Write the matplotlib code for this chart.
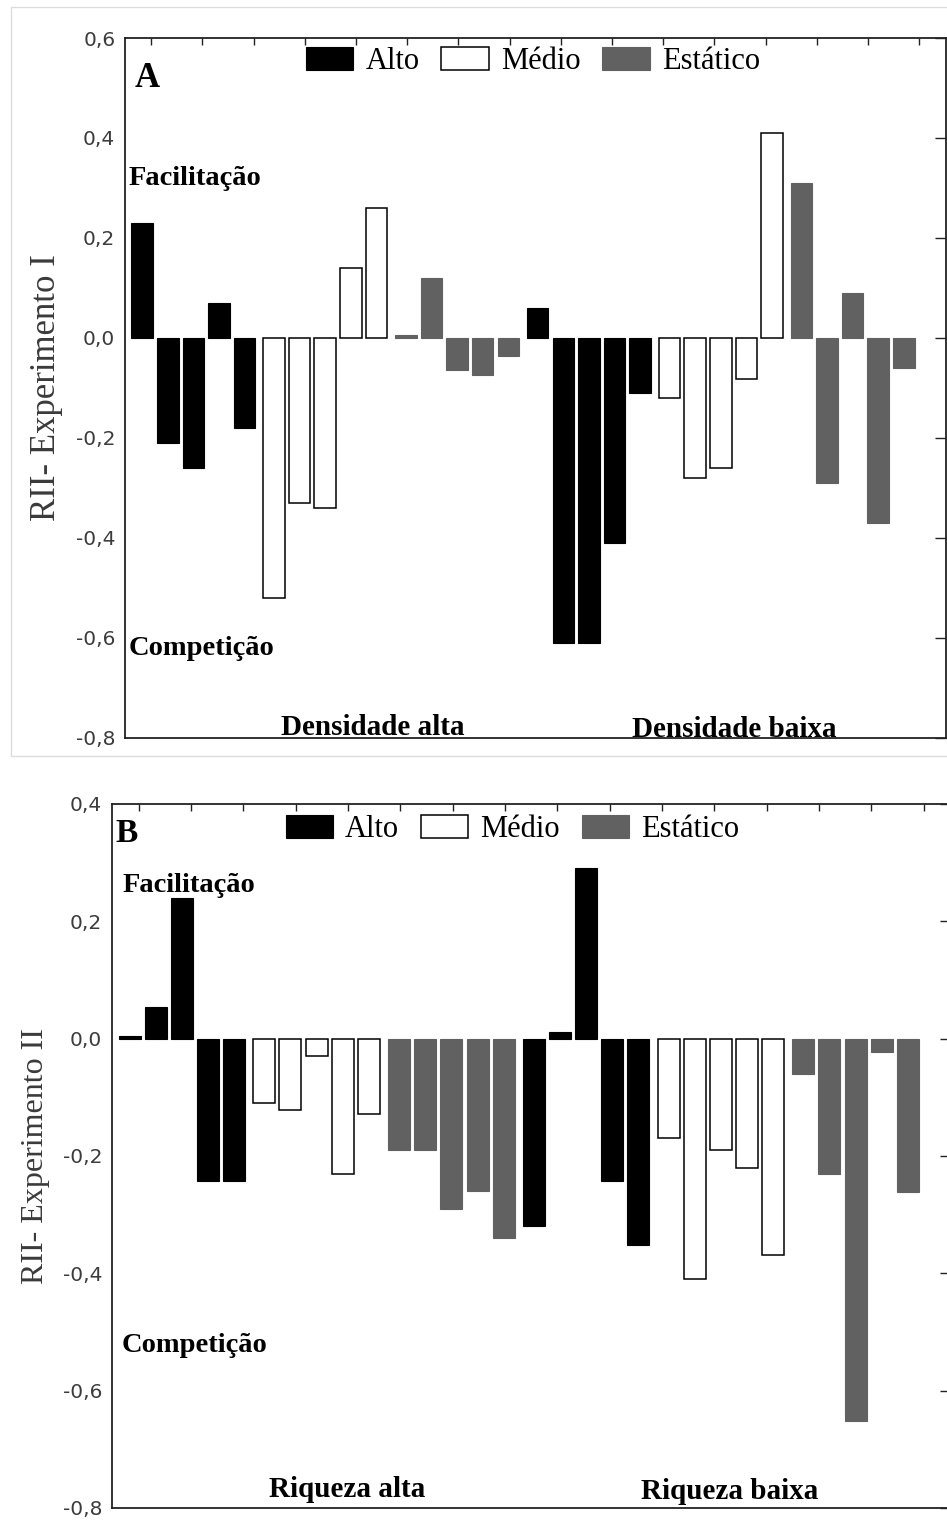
import matplotlib
matplotlib.use('Agg')
import matplotlib.pyplot as plt
import matplotlib.patches as mpatches
from matplotlib.ticker import FuncFormatter, FixedLocator
import numpy as np

plt.rcParams['font.family'] = ['Liberation Serif', 'DejaVu Serif']

# RII values, 5 bars per block
# Experimento I (A): Densidade alta, then Densidade baixa
a_alta_alto = [0.23, -0.21, -0.26, 0.07, -0.18]
a_alta_medio = [-0.52, -0.33, -0.34, 0.14, 0.26]
a_alta_estatico = [0.006, 0.12, -0.064, -0.074, -0.036]
a_baixa_alto = [0.06, -0.61, -0.61, -0.41, -0.11]
a_baixa_medio = [-0.12, -0.28, -0.26, -0.083, 0.41]
a_baixa_estatico = [0.31, -0.29, 0.09, -0.37, -0.06]

# Experimento II (B): Riqueza alta, then Riqueza baixa
b_alta_alto = [0.004, 0.054, 0.24, -0.243, -0.243]
b_alta_medio = [-0.11, -0.122, -0.03, -0.23, -0.128]
b_alta_estatico = [-0.19, -0.19, -0.29, -0.26, -0.34]
b_baixa_alto = [-0.32, 0.011, 0.29, -0.243, -0.352]
b_baixa_medio = [-0.169, -0.409, -0.19, -0.22, -0.369]
b_baixa_estatico = [-0.06, -0.23, -0.652, -0.022, -0.261]

treatments = ['Alto', 'Médio', 'Estático']
order = ['Alto', 'Médio', 'Estático', 'Alto', 'Médio', 'Estático']

styles = {
    'Alto': dict(facecolor='black', edgecolor='black', linewidth=0.8),
    'Médio': dict(facecolor='white', edgecolor='black', linewidth=1.1),
    'Estático': dict(facecolor='#616161', edgecolor='#616161', linewidth=0.8),
}

GAP = 0.15  # extra space between blocks of 5 bars


def comma(v, pos):
    if abs(v) < 1e-9:
        v = 0.0
    return f'{v:.1f}'.replace('.', ',')


def draw_panel(ax, blocks, ymin, ymax):
    for b, (vals, trat) in enumerate(zip(blocks, order)):
        x = b * 5 + np.arange(len(vals)) + GAP * b
        ax.bar(x, vals, width=0.84, **styles[trat])
    ax.set_xlim(-0.67, 31.4)
    ax.set_ylim(ymin, ymax)
    ax.yaxis.set_major_locator(FixedLocator(np.round(np.arange(ymin, ymax + 0.01, 0.2), 1)))
    ax.yaxis.set_major_formatter(FuncFormatter(comma))
    ax.set_xticks(0.35 + 2 * np.arange(16))
    ax.tick_params(axis='x', bottom=False, top=True, labelbottom=False,
                   direction='in', length=5, width=1.0, color='#222222')
    ax.tick_params(axis='y', left=False, right=True, direction='in',
                   length=8, width=1.0, pad=7, labelsize=14.5,
                   labelcolor='#3c3c3c', color='#222222')
    for lab in ax.get_yticklabels():
        lab.set_family('DejaVu Sans')
    for sp in ax.spines.values():
        sp.set_linewidth(1.3)
        sp.set_color('#222222')
    handles = [mpatches.Patch(**styles[t]) for t in treatments]
    return handles


fig = plt.figure(figsize=(9.47, 15.2), dpi=100)

# light frame around the upper panel (screenshot border)
fig.patches.append(mpatches.Rectangle((0.0116, 0.5026), 1.0, 0.4928,
                                      transform=fig.transFigure, fill=False,
                                      edgecolor='#dcdcdc', linewidth=1.0))

leg_kw = dict(ncol=3, loc='upper left', frameon=False, borderpad=0,
              borderaxespad=0, fontsize=22, handlelength=1.55,
              handleheight=0.78, handletextpad=0.39, columnspacing=0.72)

# ---- Panel A ----
axA = fig.add_axes([0.132, 0.5145, 0.867, 0.4605])
hA = draw_panel(axA, [a_alta_alto, a_alta_medio, a_alta_estatico,
                      a_baixa_alto, a_baixa_medio, a_baixa_estatico], -0.8, 0.6)
axA.legend(hA, treatments, bbox_to_anchor=(0.2205, 0.987), **leg_kw)
ty = axA.get_yaxis_transform()
axA.text(0.012, 0.93, 'A', transform=axA.transAxes, fontsize=25,
         fontweight='bold', va='baseline')
axA.text(0.004, 0.306, 'Facilitação', transform=ty, fontsize=20.5,
         fontweight='bold', va='baseline')
axA.text(0.004, -0.634, 'Competição', transform=ty, fontsize=20.5,
         fontweight='bold', va='baseline')
axA.text(9.02, -0.794, 'Densidade alta', fontsize=21, fontweight='bold',
         ha='center', va='baseline')
axA.text(23.13, -0.798, 'Densidade baixa', fontsize=21, fontweight='bold',
         ha='center', va='baseline')
fig.text(55 / 947, 1 - 388 / 1520, 'RII- Experimento I', rotation=90,
         rotation_mode='anchor', ha='center', va='baseline', fontsize=25,
         color='#3a3a3a')

# ---- Panel B ----
axB = fig.add_axes([0.1183, 0.0079, 0.886, 0.4632])
hB = draw_panel(axB, [b_alta_alto, b_alta_medio, b_alta_estatico,
                      b_baixa_alto, b_baixa_medio, b_baixa_estatico], -0.8, 0.4)
axB.legend(hB, treatments, bbox_to_anchor=(0.207, 0.984), **leg_kw)
ty = axB.get_yaxis_transform()
axB.text(0.004, 0.946, 'B', transform=axB.transAxes, fontsize=24,
         fontweight='bold', va='baseline')
axB.text(0.012, 0.250, 'Facilitação', transform=ty, fontsize=20.5,
         fontweight='bold', va='baseline')
axB.text(0.012, -0.534, 'Competição', transform=ty, fontsize=20.5,
         fontweight='bold', va='baseline')
axB.text(8.31, -0.781, 'Riqueza alta', fontsize=21, fontweight='bold',
         ha='center', va='baseline')
axB.text(22.94, -0.785, 'Riqueza baixa', fontsize=21, fontweight='bold',
         ha='center', va='baseline')
fig.text(43 / 947, 1 - 1156 / 1520, 'RII- Experimento II', rotation=90,
         rotation_mode='anchor', ha='center', va='baseline', fontsize=23,
         color='#3a3a3a')

fig.savefig('out.png', dpi=100, facecolor='white')
plt.close(fig)
